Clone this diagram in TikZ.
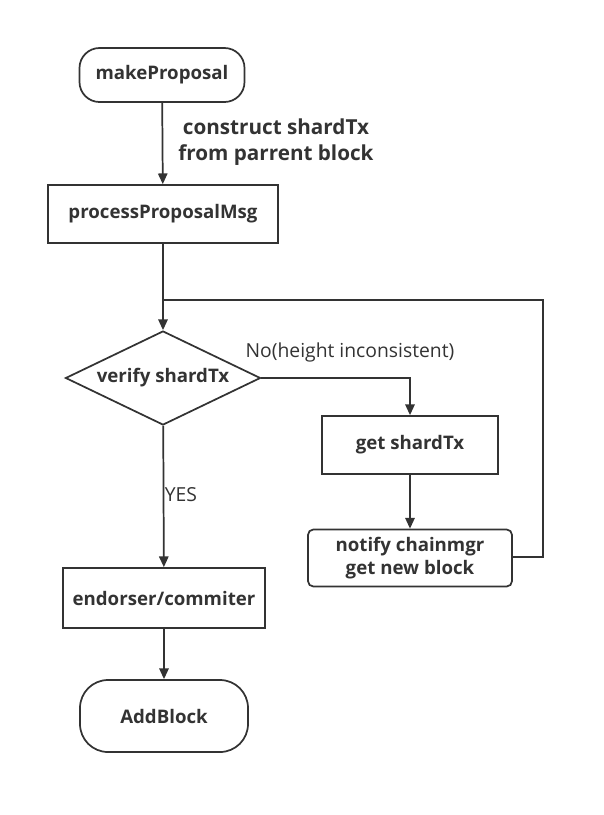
\documentclass[tikz,border=0pt]{standalone}
\usepackage{fontspec}
\setmainfont{Open Sans}
\usetikzlibrary{shapes.geometric,arrows.meta}
\definecolor{ink}{HTML}{333333}
\tikzset{
  box/.style={draw=ink, line width=1.3pt, text=ink, font=\bfseries\fontsize{14}{17}\selectfont, align=center, inner sep=0pt},
  flow/.style={draw=ink, line width=1.3pt, -{Triangle[length=8pt,width=7pt]}},
  lbl/.style={text=ink, font=\fontsize{14.5}{18}\selectfont, align=center}
}
\begin{document}
\begin{tikzpicture}[x=0.75pt,y=-0.75pt]
  \useasboundingbox (0,0) rectangle (604,815);
  % Ana düğümler
  \node[box, rounded corners=15pt, minimum width=165*0.75pt, minimum height=54*0.75pt] (make) at (162,75) {makeProposal};
  \node[box, minimum width=230*0.75pt, minimum height=58*0.75pt] (proc) at (163,214) {processProposalMsg};
  \node[box, diamond, aspect=2.07, minimum width=195*0.75pt, minimum height=94*0.75pt] (verify) at (163,378) {verify shardTx};
  \node[box, minimum width=176*0.75pt, minimum height=58*0.75pt] (get) at (410,445) {get shardTx};
  \node[box, rounded corners=4pt, minimum width=204*0.75pt, minimum height=57*0.75pt] (notify) at (410,558) {notify chainmgr\\get new block};
  \node[box, minimum width=202*0.75pt, minimum height=60*0.75pt] (endorse) at (164,598) {endorser/commiter};
  \node[box, rounded corners=21pt, minimum width=168*0.75pt, minimum height=72*0.75pt] (add) at (164,716) {AddBlock};

  % Döngü köşeleri
  \coordinate (joint) at (163,300);
  \coordinate (loopTop) at (543,300);
  \coordinate (loopBot) at (543,557);
  \coordinate (noTurn) at (410,378);

  % Bağlantılar
  \draw[flow] (make) -- (proc);
  \draw[flow] (proc) -- (verify);
  \draw[flow] (verify.east) -- (noTurn) -- (get);
  \draw[flow] (get) -- (notify);
  \draw[draw=ink, line width=1.3pt] (notify.east |- loopBot) -- (loopBot) -- (loopTop) -- (joint);
  \draw[flow] (verify) -- (endorse);
  \draw[flow] (endorse) -- (add);

  % Etiketler
  \node[lbl, font=\bfseries\fontsize{15.5}{19}\selectfont] (cons) at (276,142) {construct shardTx\\from parrent block};
  \node[lbl] (no) at (350,352) {No(height inconsistent)};
  \node[lbl] (yes) at (181,495) {YES};
\end{tikzpicture}
\end{document}
